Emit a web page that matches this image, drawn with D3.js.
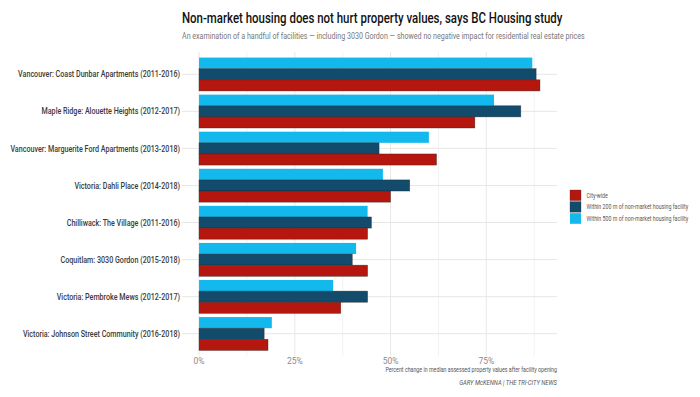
<!DOCTYPE html>
<html>
<head>
<meta charset="utf-8">
<script src="https://cdn.jsdelivr.net/npm/d3@7"></script>
<style>
  body { margin: 0; background: #fff; }
  text { font-family: Roboto, "Liberation Sans", sans-serif; }
</style>
</head>
<body>
<div id="chart"></div>
<script>
// data (percent change)
var facilities = ["Vancouver: Coast Dunbar Apartments (2011-2016)",
    "Maple Ridge: Alouette Heights (2012-2017)",
    "Vancouver: Marguerite Ford Apartments (2013-2018)",
    "Victoria: Dahli Place (2014-2018)",
    "Chilliwack: The Village (2011-2016)",
    "Coquitlam: 3030 Gordon (2015-2018)",
    "Victoria: Pembroke Mews (2012-2017)",
    "Victoria: Johnson Street Community (2016-2018)"];
var cityWide = [89, 72, 62, 50, 44, 44, 37, 18];
var within200 = [88, 84, 47, 55, 45, 40, 44, 17];
var within500 = [87, 77, 60, 48, 44, 41, 35, 19];
var seriesNames = ["City-wide", "Within 200 m of non-market housing facility", "Within 500 m of non-market housing facility"];
var xTicks = [0, 25, 50, 75];

var W = 700, H = 397,
    panel = { left: 182, right: 557, top: 52, bottom: 356 },
    colors = ["#b5170f", "#134b6c", "#13b8ec"],
    maxVal = d3.max([cityWide, within200, within500], function (s) { return d3.max(s); });

var svg = d3.select("#chart").append("svg")
    .attr("width", W)
    .attr("height", H);

// ggplot-like 5% expansion on x
var x = d3.scaleLinear()
    .domain([-0.05 * maxVal, maxVal * 1.05])
    .range([panel.left, panel.right]);

var y = d3.scalePoint()
    .domain(facilities)
    .range([panel.top, panel.bottom])
    .padding(0.6);

var step = y.step(),
    barH = step * 0.3;

// grid
var minor = d3.range(12.5, maxVal * 1.05, 25);
svg.append("g").selectAll("line.minor")
    .data(minor)
    .enter().append("line")
    .attr("x1", function (d) { return x(d); })
    .attr("x2", function (d) { return x(d); })
    .attr("y1", panel.top)
    .attr("y2", panel.bottom)
    .attr("stroke", "#f2f2f2")
    .attr("stroke-width", 1);

svg.append("g").selectAll("line.major")
    .data(xTicks)
    .enter().append("line")
    .attr("x1", function (d) { return x(d); })
    .attr("x2", function (d) { return x(d); })
    .attr("y1", panel.top)
    .attr("y2", panel.bottom)
    .attr("stroke", "#e8e8e8")
    .attr("stroke-width", 1);

svg.append("g").selectAll("line.hgrid")
    .data(facilities)
    .enter().append("line")
    .attr("x1", panel.left)
    .attr("x2", panel.right)
    .attr("y1", function (d) { return y(d); })
    .attr("y2", function (d) { return y(d); })
    .attr("stroke", "#e6e6e6")
    .attr("stroke-width", 1);

// bars: 500m on top, 200m middle, city-wide bottom
var series = [within500, within200, cityWide],
    seriesColor = [colors[2], colors[1], colors[0]];

series.forEach(function (vals, si) {
    svg.append("g").selectAll("rect")
        .data(vals)
        .enter().append("rect")
        .attr("x", x(0))
        .attr("y", function (d, i) { return y(facilities[i]) - 1.5 * barH + si * barH; })
        .attr("width", function (d) { return x(d) - x(0); })
        .attr("height", barH)
        .attr("fill", seriesColor[si])
        .attr("stroke", si == 0 ? "none" : "#222")
        .attr("stroke-opacity", 0.6)
        .attr("stroke-width", 0.6);
});

// squeeze text horizontally around its anchor x (reference uses a narrow face)
function squeeze(sel, factor) {
    sel.each(function () {
        var x0 = +d3.select(this).attr("x");
        d3.select(this).attr("transform",
            "translate(" + x0 + ",0) scale(" + factor + ",1) translate(" + (-x0) + ",0)");
    });
}
function fitLongest(sel, target) {
    var longest = 0;
    sel.each(function () { longest = Math.max(longest, this.getComputedTextLength()); });
    squeeze(sel, target / longest);
}

// y labels
var yLabels = svg.append("g").selectAll("text")
    .data(facilities)
    .enter().append("text")
    .attr("x", 180)
    .attr("y", function (d) { return y(d); })
    .attr("dy", "0.35em")
    .attr("text-anchor", "end")
    .attr("font-size", 9)
    .attr("font-weight", 500)
    .attr("fill", "#3a3a3a")
    .text(function (d) { return d; });
fitLongest(yLabels, 170);

// x ticks
svg.append("g").selectAll("text")
    .data(xTicks)
    .enter().append("text")
    .attr("x", function (d) { return x(d); })
    .attr("y", 364)
    .attr("text-anchor", "middle")
    .attr("font-size", 8.5)
    .attr("fill", "#8a8a8a")
    .text(function (d) { return d + "%"; });

// axis title and caption
svg.append("text")
    .attr("x", panel.right)
    .attr("y", 372.5)
    .attr("text-anchor", "end")
    .attr("font-size", 6.8)
    .attr("fill", "#555")
    .text("Percent change in median assessed property values after facility opening")
    .call(fitLongest, 172);

svg.append("text")
    .attr("x", panel.right)
    .attr("y", 385.5)
    .attr("text-anchor", "end")
    .attr("font-size", 6.8)
    .attr("font-style", "italic")
    .attr("fill", "#555")
    .text("GARY McKENNA | THE TRI-CITY NEWS")
    .call(fitLongest, 98);

// title and subtitle
svg.append("text")
    .attr("x", 182)
    .attr("y", 23)
    .attr("font-size", 15)
    .attr("font-weight", 500)
    .attr("fill", "#111")
    .text("Non-market housing does not hurt property values, says BC Housing study")
    .call(fitLongest, 381);

svg.append("text")
    .attr("x", 182)
    .attr("y", 39)
    .attr("font-size", 8.5)
    .attr("fill", "#777")
    .text("An examination of a handful of facilities \u2014 including 3030 Gordon \u2014 showed no negative impact for residential real estate prices")
    .call(fitLongest, 403);

// legend
var legend = svg.append("g")
    .attr("transform", "translate(570,190)");
var keys = legend.selectAll("g")
    .data(seriesNames)
    .enter().append("g")
    .attr("transform", function (d, i) { return "translate(0," + i * 11.6 + ")"; });
keys.append("rect")
    .attr("width", 11)
    .attr("height", 10.6)
    .attr("fill", function (d, i) { return colors[i]; })
    .attr("stroke", function (d, i) { return i == 2 ? "none" : "#333"; })
    .attr("stroke-opacity", 0.5)
    .attr("stroke-width", 0.6);
var keyText = keys.append("text")
    .attr("x", 16.5)
    .attr("y", 5.3)
    .attr("dy", "0.35em")
    .attr("font-size", 6.5)
    .attr("fill", "#555")
    .text(function (d) { return d; });
fitLongest(keyText, 102);
</script>
</body>
</html>
